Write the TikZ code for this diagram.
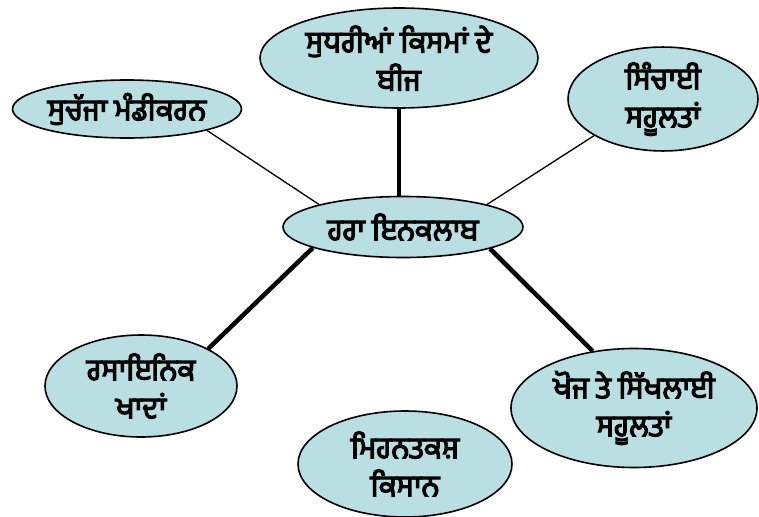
\documentclass[tikz,border=0pt]{standalone}
\usepackage{fontspec}
\newfontfamily\pa[Script=Gurmukhi,FakeBold=4]{Hind Jalandhar}
\usetikzlibrary{shapes.geometric,backgrounds}
\definecolor{bubble}{RGB}{186,223,227}
\begin{document}
\begin{tikzpicture}[x=1pt,y=-1pt,
  bub/.style={ellipse,draw=black,line width=1.6pt,fill=bubble,inner sep=0pt,
    font=\pa\fontsize{30}{38}\selectfont,align=center},
  thin/.style={line width=1.3pt},
  thick/.style={line width=4.5pt}]
\useasboundingbox (0,0) rectangle (759,516);
\node[bub,minimum width=278pt,minimum height=100pt] (seed) at (399,58) {ਸੁਧਰੀਆਂ ਕਿਸਮਾਂ ਦੇ\\ਬੀਜ};
\node[bub,minimum width=229pt,minimum height=58pt] (mkt) at (127,109) {ਸੁਚੱਜਾ ਮੰਡੀਕਰਨ};
\node[bub,minimum width=190pt,minimum height=98pt] (irr) at (663,99) {ਸਿੰਚਾਈ\\ਸਹੂਲਤਾਂ};
\node[bub,minimum width=240pt,minimum height=61pt] (ctr) at (403,227) {ਹਰਾ ਇਨਕਲਾਬ};
\node[bub,minimum width=192pt,minimum height=102pt] (fert) at (141,386) {ਰਸਾਇਨਿਕ\\ਖਾਦਾਂ};
\node[bub,minimum width=246pt,minimum height=119pt] (res) at (634,408) {ਖੋਜ ਤੇ ਸਿੱਖਲਾਈ\\ਸਹੂਲਤਾਂ};
\node[bub,minimum width=214pt,minimum height=106pt] (farm) at (405,464) {ਮਿਹਨਤਕਸ਼\\ਕਿਸਾਨ};
\begin{scope}[on background layer]
\draw[thin] (mkt.-15) -- (ctr.165);
\draw[thick] (seed.south) -- (seed.south |- ctr.north);
\draw[thin] (irr.208) -- (ctr.15);
\draw[thick] (ctr.193) -- (fert.29);
\draw[thick] (ctr.-14) -- (res.126);
\end{scope}
\end{tikzpicture}
\end{document}
